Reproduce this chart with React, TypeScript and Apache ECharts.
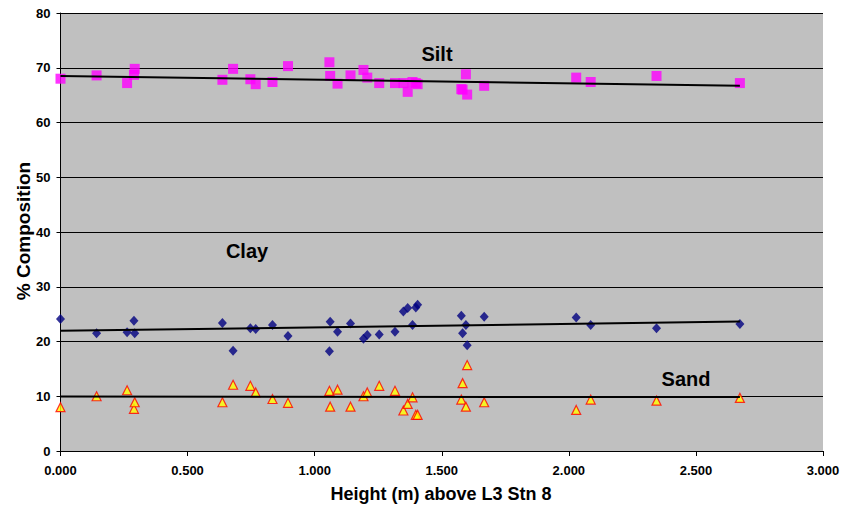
import React, { useEffect, useRef } from "react";
import * as echarts from "echarts";

const heights = [
  0.0, 0.142, 0.262, 0.289, 0.292, 0.637, 0.679, 0.747, 0.768, 0.834, 0.895,
  1.058, 1.061, 1.09, 1.141, 1.192, 1.207, 1.254, 1.316, 1.349, 1.366, 1.385,
  1.398, 1.405, 1.577, 1.582, 1.595, 1.6, 1.667, 2.029, 2.086, 2.345, 2.673,
];
const silt = [
  68.0, 68.6, 67.2, 68.7, 69.8, 67.8, 69.8, 67.9, 67.0, 67.4, 70.3,
  71.0, 68.5, 67.1, 68.6, 69.6, 68.2, 67.2, 67.2, 67.2, 65.6, 67.4,
  67.2, 67.0, 66.1, 66.0, 68.8, 65.1, 66.7, 68.2, 67.4, 68.5, 67.2,
];
const clay = [
  24.1, 21.5, 21.7, 23.8, 21.5, 23.4, 18.3, 22.4, 22.3, 23.0, 21.0,
  18.2, 23.6, 21.8, 23.3, 20.5, 21.2, 21.3, 21.8, 25.5, 26.1, 23.0,
  26.2, 26.7, 24.7, 21.5, 23.0, 19.3, 24.5, 24.4, 23.0, 22.4, 23.2,
];
const sand = [
  8.0, 10.0, 11.1, 7.7, 8.9, 8.9, 12.1, 11.9, 10.7, 9.5, 8.8,
  11.0, 8.1, 11.2, 8.1, 10.0, 10.7, 11.9, 11.0, 7.4, 8.6, 9.8,
  6.6, 6.6, 9.4, 12.4, 8.1, 15.7, 8.9, 7.5, 9.4, 9.2, 9.7,
];
const trendX = [0, 2.673];
const siltTrend = [68.5, 66.7];
const clayTrend = [21.95, 23.65];
const sandTrend = [9.95, 9.85];

const xTitle = "Height (m) above L3 Stn 8";
const yTitle = "% Composition";

const pairs = (xs: number[], ys: number[]) => xs.map((x, i) => [x, ys[i]]);

const FONT = "'Liberation Sans', Arial, sans-serif";

export default function App() {
  const ref = useRef<HTMLDivElement>(null);
  useEffect(() => {
    if (!ref.current) return;
    const chart = echarts.init(ref.current, undefined, { renderer: "svg" });
    const trendStyle = { color: "#000", width: 2 };
    chart.setOption({
      animation: false,
      backgroundColor: "#ffffff",
      grid: {
        left: 60.5,
        right: 24,
        top: 13,
        bottom: 63,
        show: true,
        backgroundColor: "#C0C0C0",
        borderWidth: 0,
      },
      xAxis: {
        type: "value",
        min: 0,
        max: 3,
        interval: 0.5,
        axisLine: { lineStyle: { color: "#000", width: 1 } },
        axisTick: { show: true, length: 5, lineStyle: { color: "#000" } },
        axisLabel: {
          formatter: (v: number) => v.toFixed(3),
          color: "#000",
          fontWeight: "bold",
          fontSize: 13,
          fontFamily: FONT,
          margin: 13,
        },
        splitLine: { show: false },
      },
      yAxis: {
        type: "value",
        min: 0,
        max: 80,
        interval: 10,
        axisLine: { show: true, lineStyle: { color: "#000", width: 1 } },
        axisTick: { show: true, length: 4, lineStyle: { color: "#000" } },
        axisLabel: {
          color: "#000",
          fontWeight: "bold",
          fontSize: 13,
          fontFamily: FONT,
          margin: 10,
        },
        splitLine: { show: true, lineStyle: { color: "#000", width: 1 } },
      },
      series: [
        {
          type: "scatter",
          name: "Silt",
          data: pairs(heights, silt),
          symbol: "rect",
          symbolSize: 10,
          itemStyle: { color: "#FF00FF" },
          z: 2,
        },
        {
          type: "scatter",
          name: "Clay",
          data: pairs(heights, clay),
          symbol: "diamond",
          symbolSize: [9, 10],
          itemStyle: { color: "#000080" },
          z: 2,
        },
        {
          type: "scatter",
          name: "Sand",
          data: pairs(heights, sand),
          symbol: "triangle",
          symbolSize: [9, 9],
          itemStyle: { color: "#FFFF00", borderColor: "#FF0000", borderWidth: 1.2 },
          z: 2,
        },
        {
          type: "line",
          data: pairs(trendX, siltTrend),
          showSymbol: false,
          symbol: "none",
          lineStyle: trendStyle,
          z: 3,
        },
        {
          type: "line",
          data: pairs(trendX, clayTrend),
          showSymbol: false,
          symbol: "none",
          lineStyle: trendStyle,
          z: 3,
        },
        {
          type: "line",
          data: pairs(trendX, sandTrend),
          showSymbol: false,
          symbol: "none",
          lineStyle: trendStyle,
          z: 3,
        },
      ],
      graphic: [
        {
          type: "text",
          x: 437,
          y: 54,
          style: {
            text: "Silt",
            font: `bold 20px ${FONT}`,
            fill: "#000",
            textAlign: "center",
            textVerticalAlign: "middle",
          },
          z: 10,
        },
        {
          type: "text",
          x: 247,
          y: 251,
          style: {
            text: "Clay",
            font: `bold 20px ${FONT}`,
            fill: "#000",
            textAlign: "center",
            textVerticalAlign: "middle",
          },
          z: 10,
        },
        {
          type: "text",
          x: 686,
          y: 379,
          style: {
            text: "Sand",
            font: `bold 20px ${FONT}`,
            fill: "#000",
            textAlign: "center",
            textVerticalAlign: "middle",
          },
          z: 10,
        },
        {
          type: "text",
          x: 441,
          y: 494,
          style: {
            text: xTitle,
            font: `bold 18px ${FONT}`,
            fill: "#000",
            textAlign: "center",
            textVerticalAlign: "middle",
          },
          z: 10,
        },
        {
          type: "text",
          x: 23,
          y: 231,
          rotation: Math.PI / 2,
          style: {
            text: yTitle,
            font: `bold 19px ${FONT}`,
            fill: "#000",
            textAlign: "center",
            textVerticalAlign: "middle",
          },
          z: 10,
        },
      ],
    });
    return () => chart.dispose();
  }, []);
  return (
    <div
      ref={ref}
      style={{ position: "fixed", left: 0, top: 0, width: 847, height: 514 }}
    />
  );
}
